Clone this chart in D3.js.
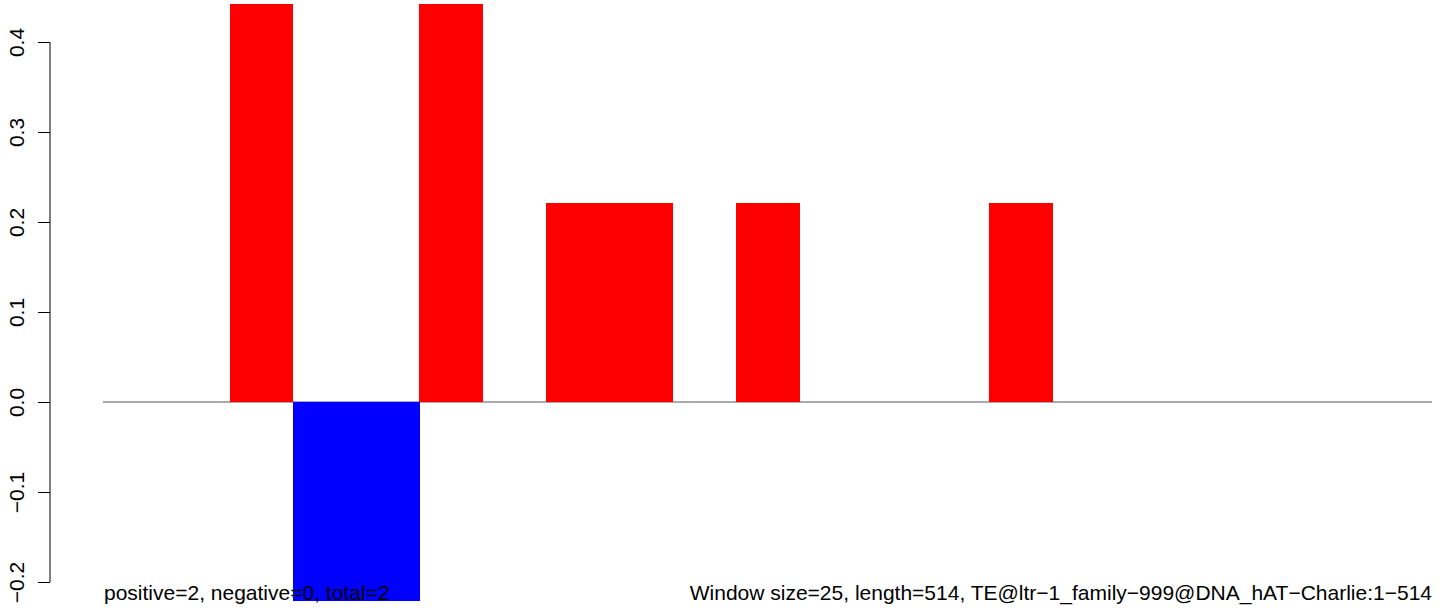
<!DOCTYPE html>
<html><head><meta charset="utf-8">
<script src="https://cdn.jsdelivr.net/npm/d3@7"></script>
<style>body{margin:0;background:#fff}svg{display:block}text{font-family:"Liberation Sans",Arial,sans-serif}</style>
</head><body>
<script>
const windows = d3.range(1, 22);
const values = [0, 0, 0.442, -0.221, -0.221, 0.442, 0, 0.221, 0.221, 0, 0.221, 0, 0, 0, 0.221, 0, 0, 0, 0, 0, 0];
const yTicks = [-0.2, -0.1, 0.0, 0.1, 0.2, 0.3, 0.4];
const leftNote = "positive=2, negative=0, total=2";
const rightNote = "Window size=25, length=514, TE@ltr\u22121_family\u2212999@DNA_hAT\u2212Charlie:1\u2212514";

const W = 1444, H = 608;
const FS = 21;
const svg = d3.select("body").append("svg").attr("width", W).attr("height", H);
const x = d3.scaleBand().domain(windows).range([103, 1432]).padding(0);
const y = d3.scaleLinear().domain([-0.2, 0.4]).range([582, 42]);

svg.append("line").attr("x1", 103).attr("x2", 1432).attr("y1", y(0)).attr("y2", y(0))
  .attr("stroke", "#555").attr("stroke-width", 1);

svg.append("g").attr("shape-rendering", "crispEdges").selectAll("rect").data(values).join("rect")
  .attr("x", (d, i) => x(windows[i]))
  .attr("width", x.bandwidth() + 0.6)
  .attr("y", d => y(Math.max(0, d)))
  .attr("height", d => Math.abs(y(d) - y(0)))
  .attr("fill", d => d >= 0 ? "#ff0000" : "#0000ff");

const axis = d3.axisLeft(y).tickValues(yTicks).tickSize(12).tickPadding(8)
  .tickFormat(d => d3.format(".1f")(d).replace("-", "\u2212"));
const g = svg.append("g").attr("transform", "translate(50,0)").call(axis);
g.select(".domain").attr("d", `M0,${y(0.4)}V${y(-0.2)}`).attr("stroke", "#000");
g.selectAll(".tick line").attr("stroke", "#000");
g.selectAll(".tick text").attr("font-size", FS).attr("fill", "#000")
  .attr("transform", "rotate(-90)").attr("x", 0).attr("y", -26)
  .attr("text-anchor", "middle").attr("dy", 0)
  .attr("font-family", "Liberation Sans, Arial, sans-serif");

svg.append("text").attr("x", 104).attr("y", 600).attr("font-size", FS).text(leftNote);
svg.append("text").attr("x", 1432).attr("y", 600).attr("font-size", FS).attr("text-anchor", "end").text(rightNote);
</script>
</body></html>
